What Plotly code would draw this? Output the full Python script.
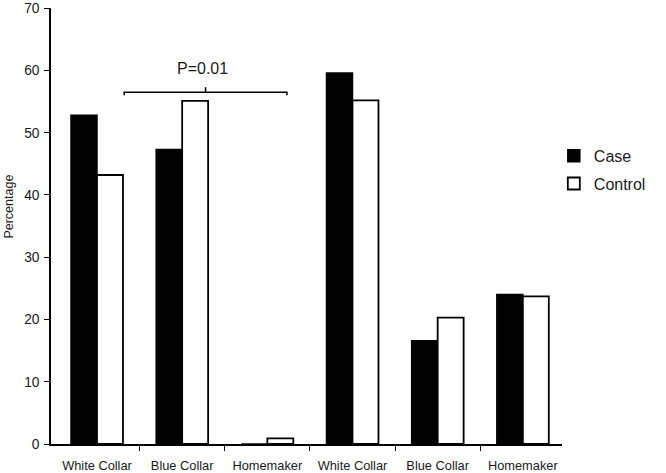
import plotly.graph_objects as go

categories = ["White Collar", "Blue Collar", "Homemaker", "White Collar", "Blue Collar", "Homemaker"]
case_values = [52.8, 47.3, 0.0, 59.6, 16.6, 24.0]
control_values = [43.2, 55.1, 0.9, 55.2, 20.3, 23.7]
y_ticks = [0, 10, 20, 30, 40, 50, 60, 70]
p_label = "P=0.01"
y_title = "Percentage"

x_pos = list(range(len(categories)))
FONT = "Liberation Sans, Arial, sans-serif"
TXT = "#1a1a1a"

fig = go.Figure()
fig.add_trace(go.Bar(
    x=x_pos, y=case_values, name="Case", legendgroup="a",
    marker=dict(color="black", line=dict(color="black", width=1.5)),
))
fig.add_trace(go.Bar(
    x=x_pos, y=control_values, name="Control", legendgroup="b",
    marker=dict(color="white", line=dict(color="black", width=1.8)),
))

# significance bracket
fig.add_shape(type="path", xref="x", yref="y",
              path="M 0.32,56.0 L 0.32,56.5 L 2.23,56.5 L 2.23,56.0",
              line=dict(color="black", width=1.5))
fig.add_shape(type="line", xref="x", yref="y",
              x0=1.275, x1=1.275, y0=56.5, y1=57.3,
              line=dict(color="black", width=1.5))
fig.add_annotation(x=1.24, y=60.35, xref="x", yref="y", text=p_label,
                   showarrow=False, font=dict(size=16, color=TXT, family=FONT))

# y-axis title (placed slightly above centre as in the reference)
fig.add_annotation(x=-0.083, y=0.5436, xref="paper", yref="paper",
                   xanchor="center", yanchor="middle",
                   text=y_title, textangle=-90, showarrow=False,
                   font=dict(size=12.5, color=TXT, family=FONT))

fig.update_layout(
    width=666, height=473,
    margin=dict(l=51, r=104, t=8, b=29, autoexpand=False),
    paper_bgcolor="white", plot_bgcolor="white",
    barmode="group", bargap=0.39, bargroupgap=0,
    font=dict(family=FONT, color=TXT),
    showlegend=True,
    legend=dict(x=0.984, y=0.700, xanchor="left", yanchor="top",
                traceorder="grouped", tracegroupgap=4,
                font=dict(size=16, color=TXT, family=FONT),
                bgcolor="rgba(0,0,0,0)"),
    xaxis=dict(
        range=[-0.54, 5.46], tickvals=x_pos, ticktext=categories,
        ticks="", showgrid=False, zeroline=False, automargin=False,
        showline=True, linecolor="black", linewidth=1.5,
        ticklabelstandoff=9,
        tickfont=dict(size=12.8, color=TXT, family=FONT),
        minor=dict(tickvals=[0.5, 1.5, 2.5, 3.5, 4.5], ticks="outside",
                   ticklen=5, tickcolor="black", tickwidth=1.2, showgrid=False),
        fixedrange=True,
    ),
    yaxis=dict(
        range=[0, 70.02], tickvals=y_ticks, ticks="outside", ticklen=5,
        tickcolor="black", tickwidth=1.2, automargin=False,
        showgrid=False, zeroline=False,
        showline=True, linecolor="black", linewidth=1.5,
        ticklabelstandoff=2,
        tickfont=dict(size=13.8, color=TXT, family=FONT),
        fixedrange=True,
    ),
)

fig.write_html("out.html", config={"displayModeBar": False},
               post_script="document.body.style.margin='0';")
